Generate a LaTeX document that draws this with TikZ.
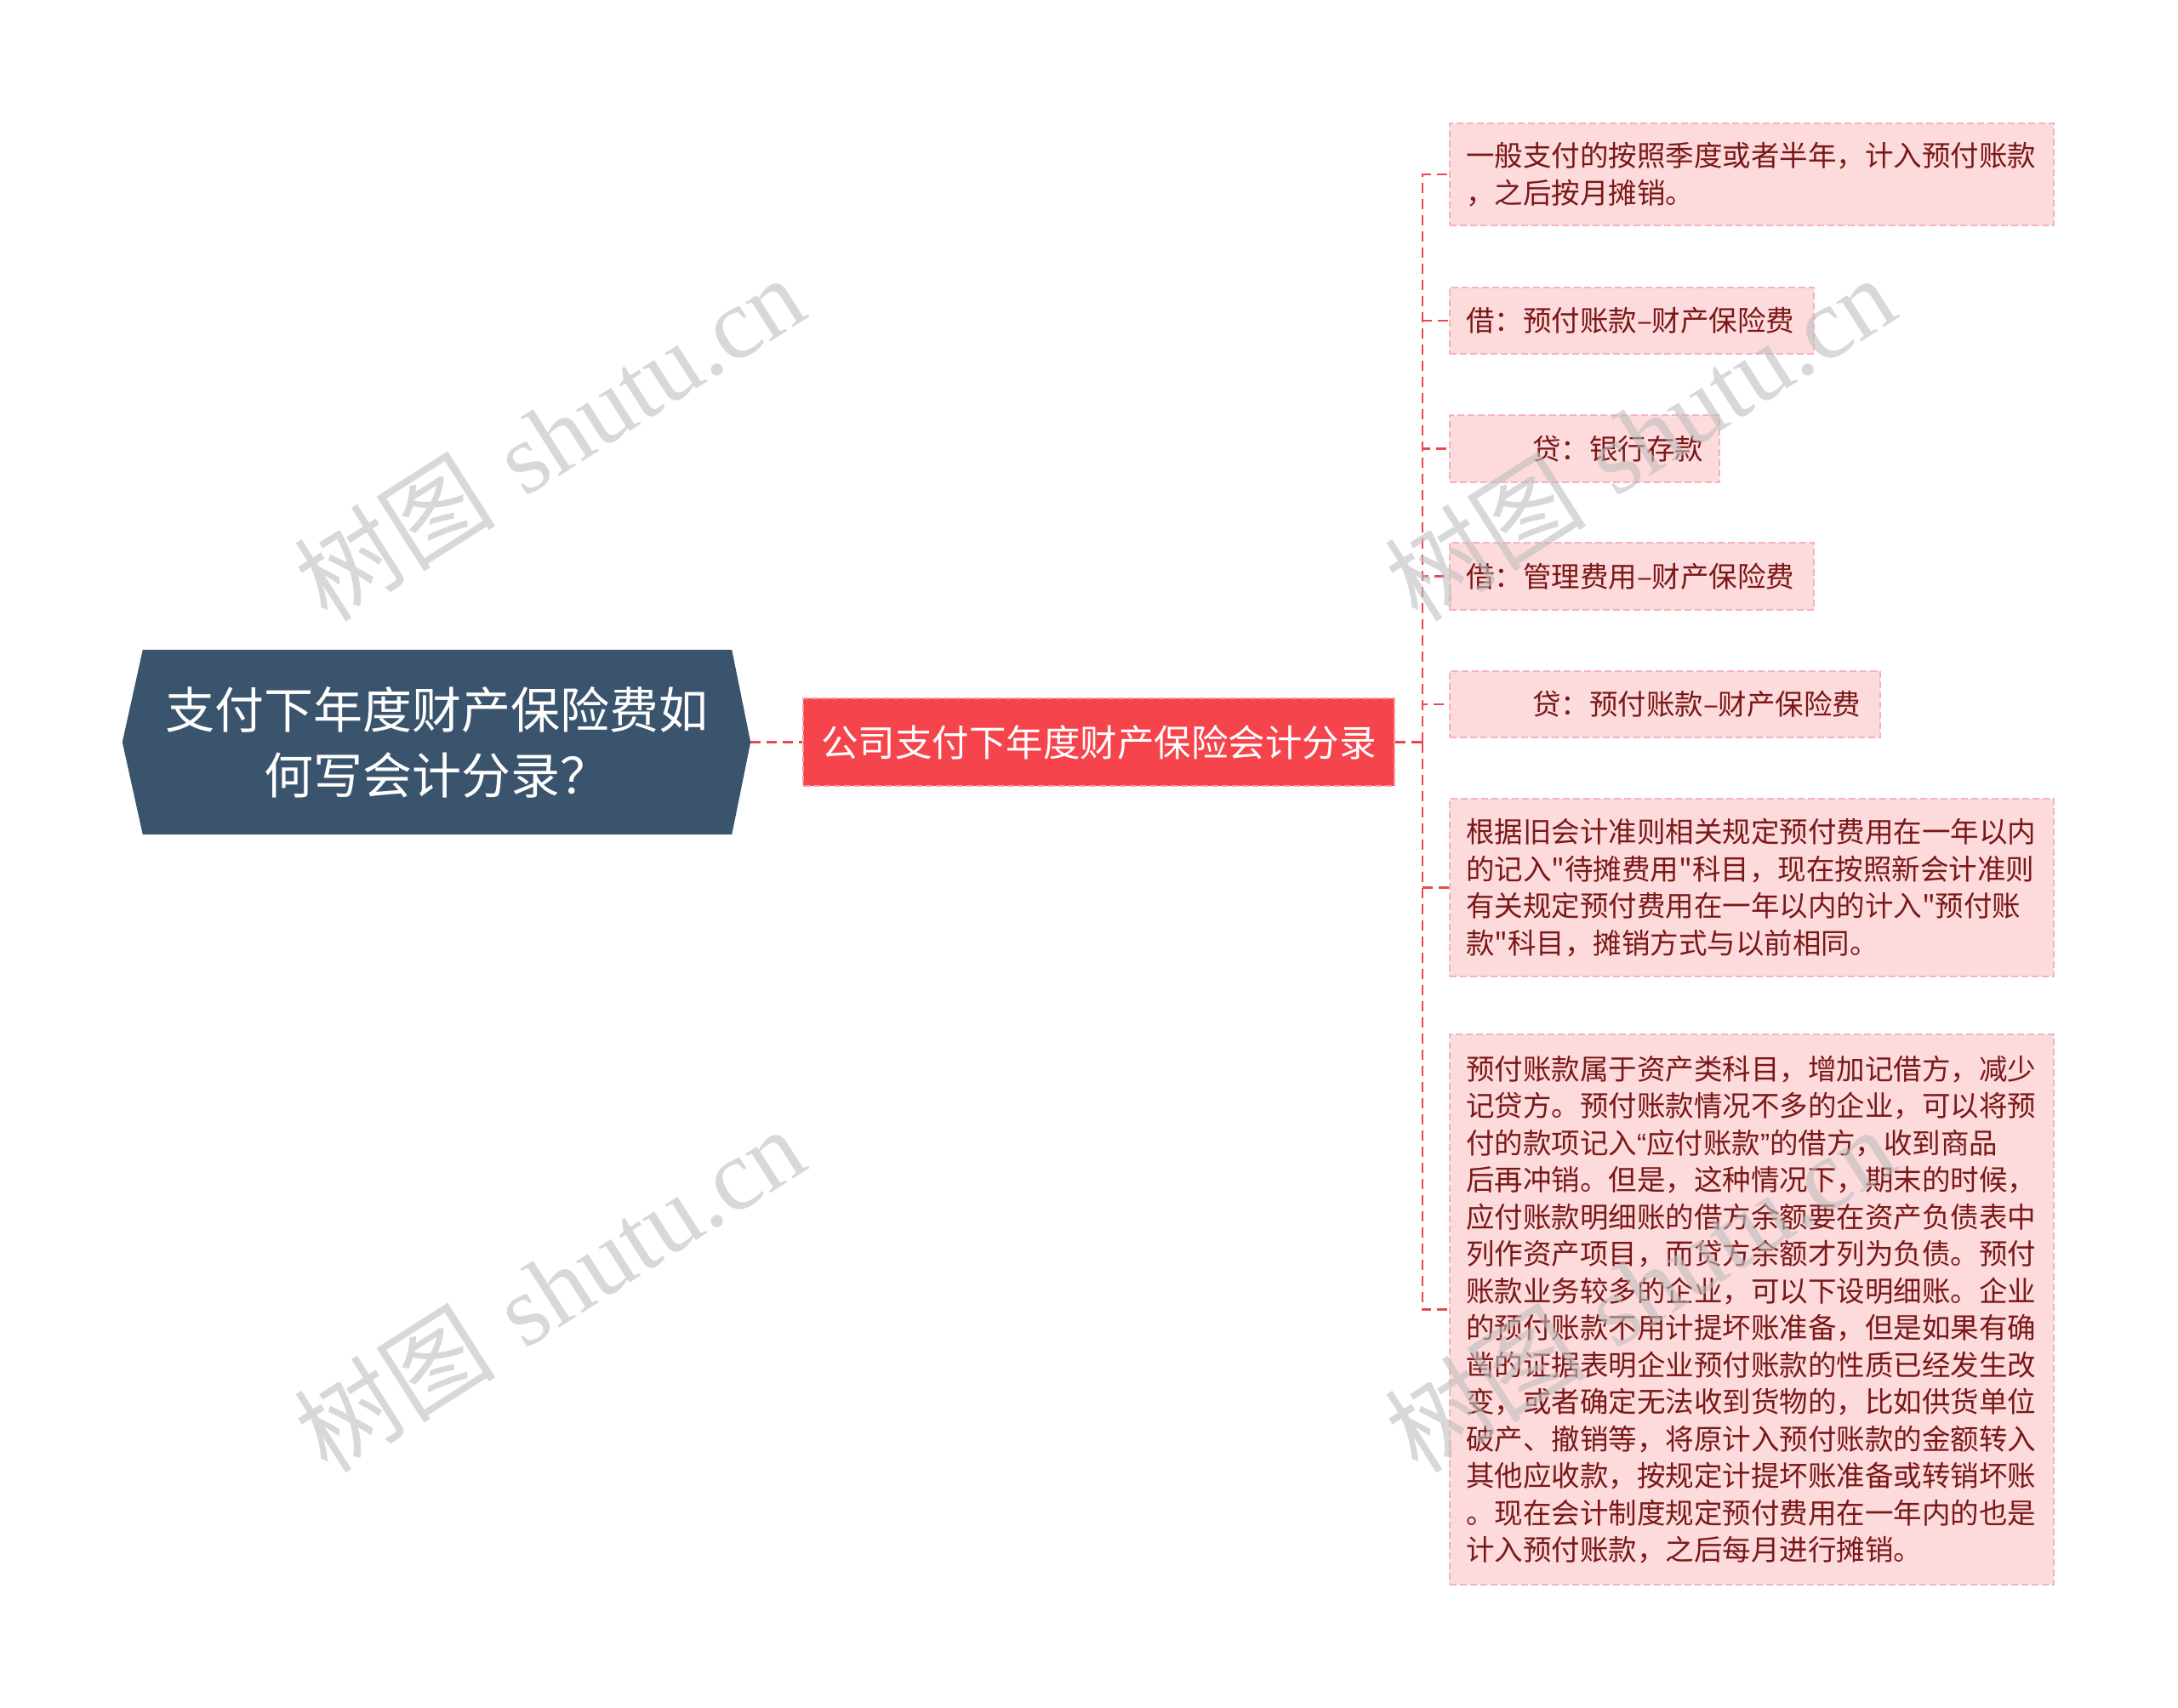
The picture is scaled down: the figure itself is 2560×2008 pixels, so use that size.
\documentclass[tikz,border=0pt]{standalone}
\usepackage{fontspec}
\newfontfamily\cjk{Noto Sans CJK SC}
\newfontfamily\wmserif{Liberation Serif}
\newfontfamily\latinq{Liberation Sans}
\usetikzlibrary{backgrounds}
\definecolor{rootfill}{HTML}{3A546E}
\definecolor{redfill}{HTML}{F5444B}
\definecolor{redborder}{HTML}{FA9A9E}
\definecolor{conncol}{HTML}{E64A50}
\definecolor{leaffill}{HTML}{FDDADB}
\definecolor{leafborder}{HTML}{F2B5B8}
\definecolor{leaftext}{HTML}{7A1818}
\definecolor{wmcol}{HTML}{BEBEBE}
\begin{document}
\begin{tikzpicture}[x=1pt,y=-1pt,
  roottext/.style={text=white, align=center, minimum width=738pt, minimum height=217pt, inner sep=0pt, font=\cjk\fontsize{58}{77}\selectfont},
  redbox/.style={fill=redfill, draw=redborder, line width=2pt, dash pattern=on 8pt off 4pt, text=white, minimum width=695pt, minimum height=103pt, inner sep=0pt, font=\cjk\fontsize{43.5}{55}\selectfont},
  leaf/.style={fill=leaffill, draw=leafborder, line width=2pt, dash pattern=on 8pt off 4pt, text=leaftext, anchor=west, align=left, inner xsep=19pt, inner ysep=0pt, text width=#1, font=\cjk\fontsize{33.5}{43.5}\selectfont},
  link/.style={draw=conncol, line width=2.5pt, dash pattern=on 12pt off 7pt},
  wmark/.style={text=wmcol, opacity=0.6, rotate=32.5, inner sep=0pt, font=\fontsize{119}{130}\selectfont}
]
\useasboundingbox (0,0) rectangle (2560,2008);

\node[roottext] (root) at (513,872.5) {支付下年度财产保险费如\\何写会计分录？};
\begin{pgfonlayer}{background}
\fill[rootfill] (root.west) -- ([xshift=24pt]root.north west) -- ([xshift=-22pt]root.north east) -- (root.east) -- ([xshift=-22pt]root.south east) -- ([xshift=24pt]root.south west) -- cycle;
\end{pgfonlayer}

\node[redbox] (main) at (1291.5,872.5) {公司支付下年度财产保险会计分录};
\coordinate (trunk) at (1672,872.5);

\node[leaf=672pt, minimum width=710pt, minimum height=120pt] (c1) at (1703,205) {一般支付的按照季度或者半年，计入预付账款\\，之后按月摊销。};
\node[leaf=390pt, minimum width=428pt, minimum height=78pt] (c2) at (1703,377) {借：预付账款–财产保险费};
\node[leaf=279pt, minimum width=317pt, minimum height=79pt] (c3) at (1703,527.5) {\hspace*{78pt}贷：银行存款};
\node[leaf=390pt, minimum width=428pt, minimum height=79pt] (c4) at (1703,677.5) {借：管理费用–财产保险费};
\node[leaf=468pt, minimum width=506pt, minimum height=78pt] (c5) at (1703,828) {\hspace*{78pt}贷：预付账款–财产保险费};
\node[leaf=672pt, minimum width=710pt, minimum height=209pt] (c6) at (1703,1043.5) {根据旧会计准则相关规定预付费用在一年以内\\的记入"待摊费用"科目，现在按照新会计准则\\有关规定预付费用在一年以内的计入"预付账\\款"科目，摊销方式与以前相同。};
\node[leaf=672pt, minimum width=710pt, minimum height=647pt] (c7) at (1703,1539.5) {预付账款属于资产类科目，增加记借方，减少\\记贷方。预付账款情况不多的企业，可以将预\\付的款项记入{\latinq “}应付账款{\latinq ”}的借方，收到商品\\后再冲销。但是，这种情况下，期末的时候，\\应付账款明细账的借方余额要在资产负债表中\\列作资产项目，而贷方余额才列为负债。预付\\账款业务较多的企业，可以下设明细账。企业\\的预付账款不用计提坏账准备，但是如果有确\\凿的证据表明企业预付账款的性质已经发生改\\变，或者确定无法收到货物的，比如供货单位\\破产、撤销等，将原计入预付账款的金额转入\\其他应收款，按规定计提坏账准备或转销坏账\\。现在会计制度规定预付费用在一年内的也是\\计入预付账款，之后每月进行摊销。};

\draw[link] (root.east) -- (main.west);
\draw[link] (main.east) -- (trunk);
\foreach \c in {c1,c2,c3,c4,c5,c6,c7}{
  \draw[link] (trunk) |- (\c.west);
}

\node[wmark] (w1) at (645,514) {{\cjk 树图} {\wmserif shutu.cn}};
\node[wmark] (w2) at (1927,514) {{\cjk 树图} {\wmserif shutu.cn}};
\node[wmark] (w3) at (645,1515) {{\cjk 树图} {\wmserif shutu.cn}};
\node[wmark] (w4) at (1927,1515) {{\cjk 树图} {\wmserif shutu.cn}};
\end{tikzpicture}
\end{document}
